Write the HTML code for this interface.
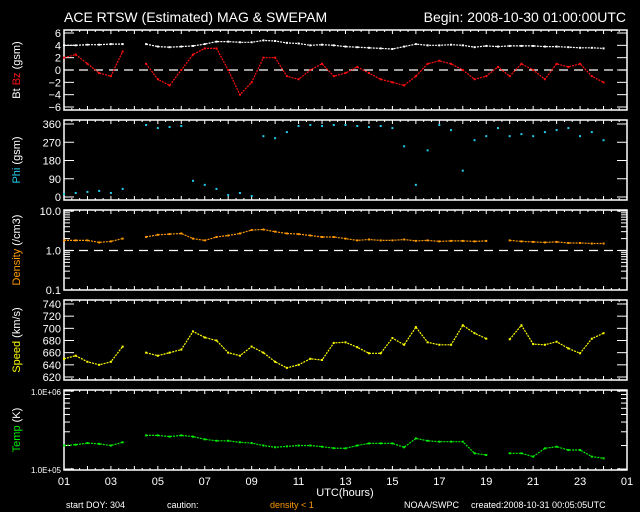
<!DOCTYPE html>
<html><head><meta charset="utf-8">
<style>
html,body{margin:0;padding:0;background:#000;}
svg{display:block;font-family:"Liberation Sans",sans-serif;}
</style></head>
<body>
<svg id="chart" width="640" height="512" viewBox="0 0 640 512" xmlns="http://www.w3.org/2000/svg">
<rect x="0" y="0" width="640" height="512" fill="#000"/>
<text x="64" y="22" fill="#fff" font-size="14">ACE RTSW (Estimated) MAG &amp; SWEPAM</text>
<text x="626" y="22" fill="#fff" font-size="14" text-anchor="end">Begin: 2008-10-30 01:00:00UTC</text>
<text x="345" y="496" fill="#fff" font-size="11" text-anchor="middle">UTC(hours)</text>
<text x="66" y="508" fill="#fff" font-size="9">start DOY: 304</text>
<text x="167" y="508" fill="#fff" font-size="9">caution:</text>
<text x="270" y="508" fill="#ff9900" font-size="9">density &lt; 1</text>
<text x="404" y="508" fill="#fff" font-size="9">NOAA/SWPC</text>
<text x="471" y="508" fill="#fff" font-size="9">created:2008-10-31 00:05:05UTC</text>
<g id="plots"></g>
</svg>
<script>
// hours after 01:00 UTC, 0.5h steps
const magTimes = [0,0.5,1,1.5,2,2.5,3,3.5,4,4.5,5,5.5,6,6.5,7,7.5,8,8.5,9,9.5,10,10.5,11,11.5,12,12.5,13,13.5,14,14.5,15,15.5,16,16.5,17,17.5,18,18.5,19,19.5,20,20.5,21,21.5,22,22.5,23];
const btValues = [4.0,4.0,4.1,4.1,4.2,4.2,null,4.2,3.8,3.7,3.8,3.9,4.2,4.6,4.6,4.5,4.5,4.8,4.7,4.4,4.3,4.0,4.1,4.0,3.8,3.7,3.6,3.5,3.4,3.8,4.2,4.0,4.0,4.1,4.0,3.7,3.9,3.8,3.9,3.9,3.9,3.8,3.8,3.7,3.6,3.6,3.5];
const bzValues = [2,2.5,1,-0.5,-1,3,null,1,-1.5,-2.5,0,2.5,3.5,3.5,0,-4,-2,2,2,-1,-1.5,0,1,-1,-0.5,0.5,-0.5,-1.5,-2,-2.5,-1,1,1.5,1,0,-1.5,-1,0.5,-1,1,0,-1.5,1,0.5,1,-1,-2];
const phiValues = [15,20,25,30,20,40,null,355,340,345,350,80,60,40,10,20,5,300,290,320,350,355,350,355,355,350,345,350,340,250,60,230,355,330,130,280,300,340,300,310,300,320,330,340,300,320,280];
const densityValues = [1.8,1.8,1.8,1.6,1.7,2.0,null,2.2,2.5,2.6,2.7,2.0,1.8,2.2,2.4,2.7,3.3,3.4,3.0,2.7,2.6,2.4,2.2,2.2,2.0,1.8,1.9,1.8,1.8,1.9,1.75,1.8,1.7,1.75,1.75,1.7,1.75,null,1.8,1.7,1.65,1.6,1.65,1.55,1.55,1.5,1.5];
const speedValues = [650,655,645,640,645,670,null,660,655,660,665,695,685,680,660,655,670,660,645,635,640,650,648,676,677,669,659,659,684,673,702,677,673,673,705,692,683,null,682,705,674,673,678,667,659,683,692];
const tempValues = [2.0e5,2.05e5,2.15e5,2.1e5,2.0e5,2.2e5,null,2.7e5,2.7e5,2.6e5,2.7e5,2.6e5,2.4e5,2.3e5,2.3e5,2.2e5,2.15e5,2.0e5,1.9e5,1.95e5,2.0e5,2.0e5,1.93e5,1.85e5,1.84e5,2.0e5,2.13e5,2.13e5,2.13e5,1.9e5,2.47e5,2.3e5,2.24e5,2.24e5,2.24e5,1.59e5,1.51e5,null,1.59e5,1.59e5,1.44e5,1.84e5,1.93e5,1.75e5,1.75e5,1.44e5,1.37e5];
const xTickLabels = ["01","03","05","07","09","11","13","15","17","19","21","23","01"];
const bzTicks = [6,4,2,0,-2,-4,-6];
const phiTicks = [360,270,180,90,0];
const densityTicks = ["10.0","1.0","0.1"];
const speedTicks = [740,720,700,680,660,640,620];
const tempTicks = ["1.0E+06","1.0E+05"];

const NS = "http://www.w3.org/2000/svg";
const root = document.getElementById('plots');
const X0 = 64, X1 = 627;
function xs(h){ return X0 + h*(X1-X0)/24; }
function mk(tag, attrs, parent){
  const e = document.createElementNS(NS, tag);
  for (const k in attrs) e.setAttribute(k, attrs[k]);
  (parent||root).appendChild(e);
  return e;
}
function linScale(lo, hi, top, bot){ return v => bot - (v-lo)/(hi-lo)*(bot-top); }
function logScale(lo, hi, top, bot){ return v => bot - (Math.log10(v)-Math.log10(lo))/(Math.log10(hi)-Math.log10(lo))*(bot-top); }

function frame(name, top, bot){
  const g = mk('g', {});
  
  
  const r = mk('rect', {x:X0, y:top, width:X1-X0, height:bot-top, fill:'none', stroke:'#fff', 'stroke-width':1.5}, g);
  
  
  for (let m = 0; m <= 72; m++){
    const x = xs(m/3);
    const len = (m % 3 === 0) ? 4 : 2;
    mk('line', {x1:x, x2:x, y1:bot, y2:bot-len, stroke:'#fff', 'stroke-width':1}, g);
    mk('line', {x1:x, x2:x, y1:top, y2:top+len, stroke:'#fff', 'stroke-width':1}, g);
  }
  return g;
}
function yTick(g, y, label, fs){
  mk('line', {x1:X0, x2:X0+10, y1:y, y2:y, stroke:'#fff', 'stroke-width':1}, g);
  mk('line', {x1:X1, x2:X1-10, y1:y, y2:y, stroke:'#fff', 'stroke-width':1}, g);
  if (label !== null){
    const t = mk('text', {x:X0-3, y:y+4, fill:'#fff', 'font-size':fs||11, 'text-anchor':'end'}, g);
    t.textContent = label;
    
    
  }
}
function minorTick(g, y){
  mk('line', {x1:X0, x2:X0+6, y1:y, y2:y, stroke:'#fff', 'stroke-width':1}, g);
  mk('line', {x1:X1, x2:X1-6, y1:y, y2:y, stroke:'#fff', 'stroke-width':1}, g);
}
function series(name, vals, ys, color, noLine){
  const g = mk('g', {});
  
  
  let seg = [];
  const flush = () => { if (!noLine && seg.length > 1) mk('polyline', {points:seg.join(' '), fill:'none', stroke:color, 'stroke-width':1.2, 'stroke-dasharray':'2 1'}, g); seg = []; };
  vals.forEach((v, i) => {
    if (v === null){ flush(); return; }
    const x = xs(magTimes[i]), y = ys(v);
    seg.push(x.toFixed(1)+','+y.toFixed(1));
    const d = mk('rect', {x:x-1, y:y-1, width:2, height:2, fill:color}, g);
    
    
  });
  flush();
}
function yLabel(name, x, cy, parts){
  const t = mk('text', {x:0, y:0, 'font-size':11, transform:`translate(${x},${cy}) rotate(-90)`, 'text-anchor':'middle'});
  
  
  parts.forEach(p => { const s = mk('tspan', {fill:p[1]}, t); s.textContent = p[0]; });
}

// Panel 1: Bt / Bz
const g1 = frame('bt-bz', 30, 110);
const yBz = linScale(-6, 6, 33, 107);
bzTicks.forEach(v => yTick(g1, yBz(v), v < 0 ? '\u2212'+(-v) : String(v)));
mk('line', {x1:X0, x2:X1, y1:yBz(0), y2:yBz(0), stroke:'#fff', 'stroke-width':1.2, 'stroke-dasharray':'9 6'}, g1);
series('bz-series', bzValues, yBz, '#ff1010');
series('bt-series', btValues, yBz, '#ffffff');
yLabel('bt-bz-axis-title', 20, 70, [['Bt ','#fff'],['Bz','#ff1010'],['  (gsm)','#fff']]);

// Panel 2: Phi
const g2 = frame('phi', 120, 200);
const yPhi = linScale(0, 360, 124, 197);
phiTicks.forEach(v => yTick(g2, yPhi(v), String(v)));
series('phi-series', phiValues, yPhi, '#22ccee', true);
yLabel('phi-axis-title', 20, 160, [['Phi','#22ccee'],['  (gsm)','#fff']]);

// Panel 3: Density
const g3 = frame('density', 210, 290);
const yDen = logScale(0.1, 10, 211, 290);
densityTicks.forEach(v => yTick(g3, yDen(parseFloat(v)), v));
[0.1,1].forEach(b => { for (let k = 2; k <= 9; k++) minorTick(g3, yDen(b*k)); });
mk('line', {x1:X0, x2:X1, y1:yDen(1), y2:yDen(1), stroke:'#fff', 'stroke-width':1.2, 'stroke-dasharray':'9 6'}, g3);
series('density-series', densityValues, yDen, '#ff9900');
yLabel('density-axis-title', 20, 250, [['Density','#ff9900'],['  (/cm3)','#fff']]);

// Panel 4: Speed
const g4 = frame('speed', 300, 380);
const ySpd = linScale(620, 740, 304, 377);
speedTicks.forEach(v => yTick(g4, ySpd(v), String(v)));
series('speed-series', speedValues, ySpd, '#ffff00');
yLabel('speed-axis-title', 20, 340, [['Speed','#ffff00'],['  (km/s)','#fff']]);

// Panel 5: Temp
const g5 = frame('temp', 390, 470);
const yTmp = logScale(1e5, 1e6, 391, 469);
tempTicks.forEach(v => yTick(g5, yTmp(parseFloat(v)), v, 8));
for (let k = 2; k <= 9; k++) minorTick(g5, yTmp(1e5*k));
series('temp-series', tempValues, yTmp, '#00ee00');
yLabel('temp-axis-title', 20, 430, [['Temp','#00ee00'],['  (K)','#fff']]);

// X tick labels
xTickLabels.forEach((lab, i) => {
  const t = mk('text', {x:xs(i*2), y:485, fill:'#fff', 'font-size':11, 'text-anchor':'middle'});
  t.textContent = lab;
  
  
});
</script>
</body></html>
